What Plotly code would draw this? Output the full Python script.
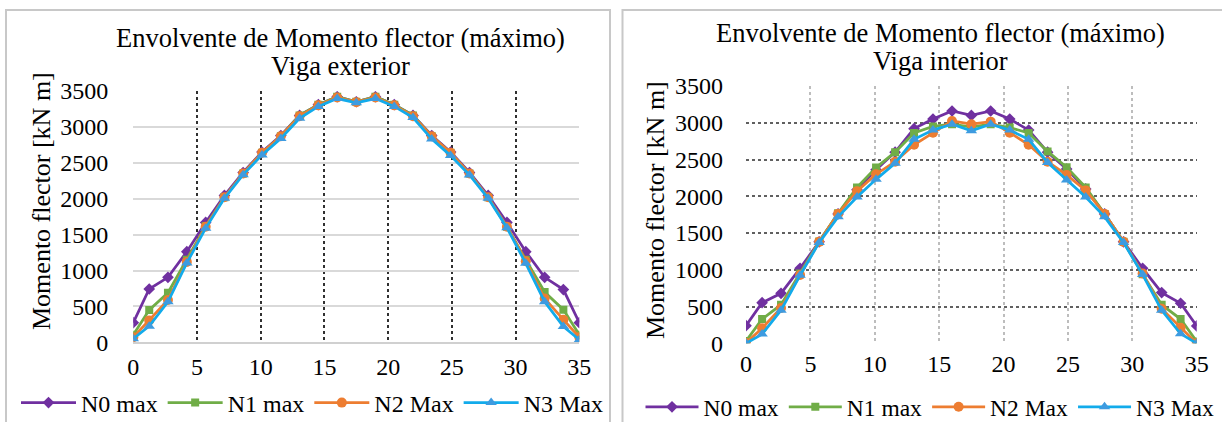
import plotly.graph_objects as go

W, H = 1222, 422

# ---------------- data ----------------
x_pos = [0, 1.25, 2.72, 4.2, 5.68, 7.15, 8.62, 10.1, 11.58, 13.05, 14.52, 16.0,
         17.5, 19.0, 20.48, 21.95, 23.42, 24.9, 26.38, 27.85, 29.32, 30.8, 32.28, 33.75, 35.0]

series_names = ["N0 max", "N1 max", "N2 Max", "N3 Max"]

ext_n0 = [273, 742, 905, 1262, 1670, 2045, 2365, 2650, 2880, 3160, 3310, 3420, 3350,
          3420, 3310, 3160, 2880, 2650, 2365, 2045, 1670, 1262, 905, 735, 273]
ext_n1 = [105, 450, 690, 1150, 1620, 2020, 2350, 2640, 2870, 3160, 3310, 3420, 3350,
          3420, 3310, 3160, 2870, 2640, 2350, 2020, 1610, 1150, 700, 455, 105]
ext_n2 = [70, 305, 590, 1120, 1610, 2020, 2350, 2640, 2870, 3150, 3300, 3410, 3345,
          3410, 3300, 3150, 2870, 2640, 2350, 2020, 1610, 1130, 610, 315, 70]
ext_n3 = [50, 225, 565, 1105, 1590, 2005, 2335, 2610, 2840, 3120, 3285, 3395, 3335,
          3395, 3285, 3130, 2830, 2600, 2330, 2005, 1595, 1100, 566, 220, 35]

int_n0 = [240, 553, 680, 1020, 1380, 1760, 2090, 2360, 2600, 2920, 3050, 3160, 3100,
          3160, 3050, 2900, 2600, 2370, 2100, 1760, 1380, 1020, 690, 545, 236]
int_n1 = [30, 330, 525, 950, 1385, 1770, 2120, 2390, 2600, 2860, 2950, 2980, 2940,
          2980, 2935, 2860, 2610, 2395, 2120, 1760, 1380, 940, 525, 330, 25]
int_n2 = [5, 205, 480, 930, 1380, 1760, 2070, 2300, 2470, 2700, 2865, 3025, 2980,
          3015, 2865, 2700, 2470, 2290, 2080, 1760, 1380, 950, 470, 210, 0]
int_n3 = [0, 125, 450, 925, 1370, 1720, 1990, 2230, 2450, 2775, 2900, 2980, 2890,
          2980, 2900, 2775, 2460, 2220, 1990, 1720, 1370, 935, 450, 130, 0]

x_ticks = [0, 5, 10, 15, 20, 25, 30, 35]
y_ticks = [0, 500, 1000, 1500, 2000, 2500, 3000, 3500]

title_line1 = "Envolvente de Momento flector (máximo)"
title_ext = "Viga exterior"
title_int = "Viga interior"
y_title = "Momento flector [kN m]"

# ---------------- style ----------------
FONT = "Liberation Serif"
line_colors = ["#7030A0", "#70AD47", "#ED7D31", "#12ABEB"]
marker_colors = ["#7030A0", "#70AD47", "#ED7D31", "#3E9BE0"]
symbols = ["diamond", "square", "circle", "triangle-up"]
msizes = [9, 8, 10, 10]

fig = go.Figure()

for vals_list, xa, ya, leg in (
    ([ext_n0, ext_n1, ext_n2, ext_n3], "x", "y", "legend"),
    ([int_n0, int_n1, int_n2, int_n3], "x2", "y2", "legend2"),
):
    for i, vals in enumerate(vals_list):
        fig.add_trace(go.Scatter(
            x=x_pos, y=vals, name=series_names[i], mode="lines+markers",
            line=dict(color=line_colors[i], width=2.75),
            marker=dict(symbol=symbols[i], color=marker_colors[i], size=msizes[i]),
            xaxis=xa, yaxis=ya, legend=leg,
        ))

# page pixels -> paper fraction
def hx(p):
    return p / W

def vy(p):
    return 1 - p / H

TICK = dict(family=FONT, size=24, color="#000000")

def xaxis_cfg(dom, anchor, standoff, **kw):
    return dict(domain=dom, anchor=anchor, range=[0, 35], tickvals=x_ticks,
                showgrid=True, zeroline=False, tickfont=TICK, ticks="",
                ticklabelstandoff=standoff, fixedrange=True, **kw)

def yaxis_cfg(dom, anchor, standoff, **kw):
    return dict(domain=dom, anchor=anchor, range=[0, 3500], tickvals=y_ticks,
                showgrid=True, zeroline=False, tickfont=TICK, ticks="",
                ticklabelstandoff=standoff, fixedrange=True, **kw)

fig.update_layout(
    width=W, height=H,
    margin=dict(l=0, r=0, t=0, b=0, autoexpand=False),
    paper_bgcolor="white", plot_bgcolor="white",
    font=dict(family=FONT, size=24, color="#000"),
    xaxis=xaxis_cfg([hx(133.3), hx(579.3)], "y", 2,
                    gridcolor="#303030", griddash="dot", gridwidth=1.5,
                    showline=True, linecolor="#d0d0d0", linewidth=1.5),
    yaxis=yaxis_cfg([vy(342.3), vy(91)], "x", 24,
                    gridcolor="#d9d9d9", gridwidth=1.5),
    xaxis2=xaxis_cfg([hx(746), hx(1196.7)], "y2", 4,
                     gridcolor="#bdbdbd", griddash="dot", gridwidth=1.5),
    yaxis2=yaxis_cfg([vy(343.3), vy(86)], "x2", 22,
                     gridcolor="#606060", griddash="dot", gridwidth=1.5),
    legend=dict(orientation="h", x=hx(312), xanchor="center", y=vy(403), yanchor="middle",
                font=dict(family=FONT, size=24, color="#000"), bgcolor="rgba(0,0,0,0)",
                itemwidth=55, tracegroupgap=0),
    legend2=dict(orientation="h", x=hx(930), xanchor="center", y=vy(407), yanchor="middle",
                 font=dict(family=FONT, size=23.5, color="#000"), bgcolor="rgba(0,0,0,0)",
                 itemwidth=53, tracegroupgap=0),
    showlegend=True,
)

# chart borders
box = dict(type="rect", xref="paper", yref="paper", line=dict(color="#c8c8c8", width=2),
           fillcolor="rgba(0,0,0,0)", layer="below")
fig.add_shape(x0=hx(6), x1=hx(610), y0=-0.2, y1=vy(10), **box)
fig.add_shape(x0=hx(622.5), x1=1.2, y0=-0.2, y1=vy(10), **box)

# titles
tfont = dict(family=FONT, size=26.5, color="#000")
for cx, y1, y2, sub in ((340, 38, 66, title_ext), (940, 33, 61, title_int)):
    fig.add_annotation(text=title_line1, x=hx(cx), y=vy(y1), xref="paper", yref="paper",
                       showarrow=False, xanchor="center", yanchor="middle", font=tfont)
    fig.add_annotation(text=sub, x=hx(cx), y=vy(y2), xref="paper", yref="paper",
                       showarrow=False, xanchor="center", yanchor="middle", font=tfont)

# y-axis titles
afont = dict(family=FONT, size=26, color="#000")
for ax_x, ax_y in ((41, 201), (656, 210)):
    fig.add_annotation(text=y_title, x=hx(ax_x), y=vy(ax_y), xref="paper", yref="paper",
                       showarrow=False, xanchor="center", yanchor="middle",
                       textangle=-90, font=afont)

fig.write_html(
    "out.html",
    config={"displayModeBar": False},
    post_script="document.body.style.margin='0';document.body.style.overflow='hidden';",
)
